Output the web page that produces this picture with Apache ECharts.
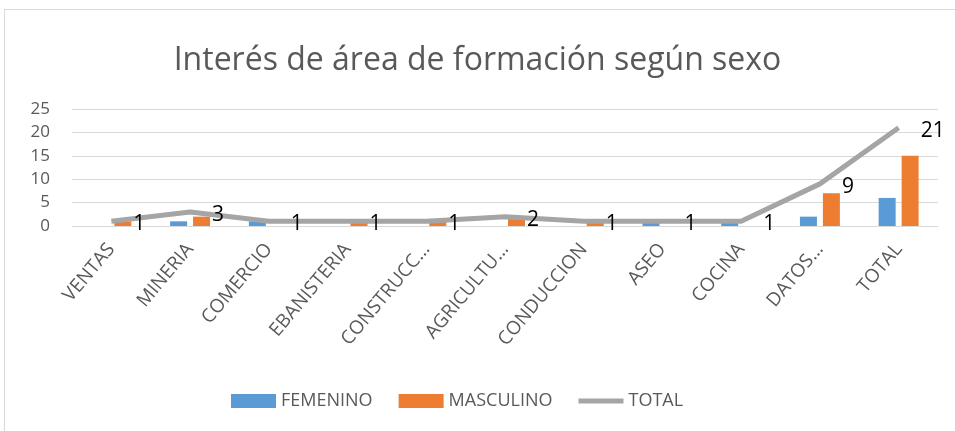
<!DOCTYPE html>
<html>
<head>
<meta charset="utf-8">
<script src="https://cdn.jsdelivr.net/npm/echarts@6/dist/echarts.min.js"></script>
<style>
  html,body{margin:0;padding:0;background:#fff;}
  #frame{position:absolute;left:4px;top:9px;width:960px;height:430px;border:1px solid #d9d9d9;box-sizing:border-box;}
  #main{position:absolute;left:0;top:0;width:955px;height:431px;}
</style>
</head>
<body>
<div id="frame"></div>
<div id="main"></div>
<script>
// categorias y valores
var categorias = ["VENTAS","MINERIA","COMERCIO","EBANISTERIA","CONSTRUCC…","AGRICULTU…","CONDUCCION","ASEO","COCINA","DATOS…","TOTAL"];
var femenino  = [0, 1, 1, 0, 0, 0, 0, 1, 1, 2, 6];
var masculino = [1, 2, 0, 1, 1, 2, 1, 0, 0, 7, 15];
var total     = [1, 3, 1, 1, 1, 2, 1, 1, 1, 9, 21];

var fuente = "'Open Sans', sans-serif";
var myChart = echarts.init(document.getElementById('main'));
var option = {
    animation: false,
    title: {
        text: 'Interés de área de formación según sexo',
        left: 'center',
        top: 40,
        textStyle: {fontFamily: fuente, fontSize: 32, fontWeight: 'normal', color: '#595959'}
    },
    legend: {
        left: 226,
        top: 387,
        itemWidth: 45,
        itemHeight: 14,
        itemGap: 26,
        textStyle: {fontFamily: fuente, fontSize: 18, color: '#595959'},
        data: [
            {name: 'FEMENINO', icon: 'rect'},
            {name: 'MASCULINO', icon: 'rect'},
            {name: 'TOTAL', icon: 'path://M0,0 L45,0 L45,5 L0,5 Z'}
        ]
    },
    grid: {left: 72, right: 17, top: 109, bottom: 205},
    xAxis: {
        type: 'category',
        data: categorias,
        axisTick: {show: false},
        axisLine: {lineStyle: {color: '#d9d9d9'}},
        axisLabel: {rotate: 50, interval: 0, margin: 20, fontFamily: fuente, fontSize: 19, color: '#595959'}
    },
    yAxis: {
        type: 'value',
        min: 0, max: 25, interval: 5,
        axisLine: {show: false},
        axisTick: {show: false},
        splitLine: {lineStyle: {color: '#d9d9d9'}},
        axisLabel: {margin: 22, fontFamily: fuente, fontSize: 17, color: '#595959'}
    },
    series: [
        {name: 'FEMENINO', type: 'bar', data: femenino, barWidth: 17, barGap: '35%', itemStyle: {color: '#5b9bd5'}},
        {name: 'MASCULINO', type: 'bar', data: masculino, barWidth: 17, itemStyle: {color: '#ed7d31'}},
        {name: 'TOTAL', type: 'line', data: total, symbol: 'circle', symbolSize: 0, z: 5,
         lineStyle: {color: '#a5a5a5', width: 5}, itemStyle: {color: '#a5a5a5'},
         label: {show: true, position: 'right', distance: 22, offset: [0, 3], fontFamily: fuente, fontSize: 21, color: '#000'}}
    ]
};
myChart.setOption(option);
</script>
</body>
</html>
